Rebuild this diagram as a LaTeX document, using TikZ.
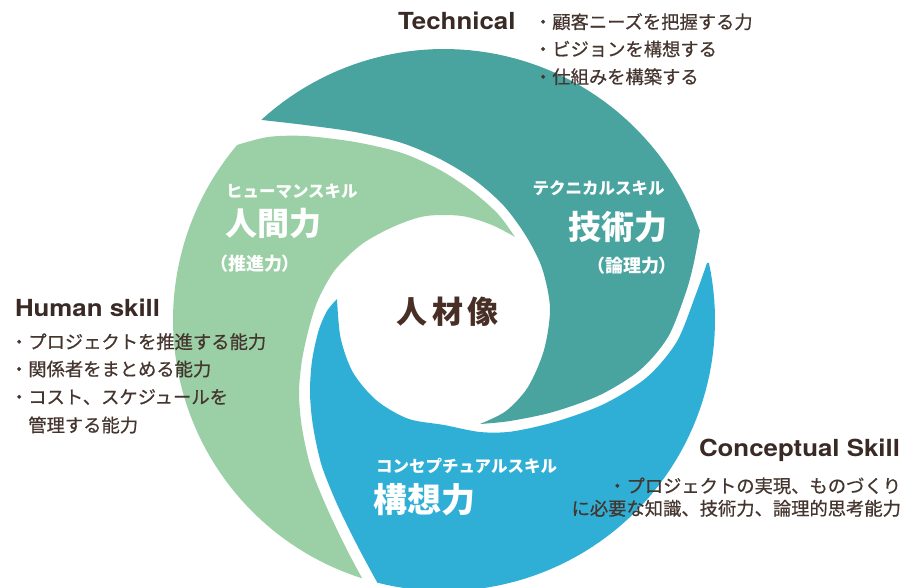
\documentclass[tikz,border=0pt]{standalone}
\usepackage{fontspec}
\setmainfont{Liberation Sans}
\newfontfamily\lat[FakeStretch=1.1]{TeX Gyre Heros}
\newfontfamily\jp{Noto Sans CJK JP}
\newfontfamily\jpm[FakeBold=0.6]{Noto Sans CJK JP}
\newfontfamily\jpp[RawFeature=+palt]{Noto Sans CJK JP}
\definecolor{tealc}{HTML}{49A4A0}
\definecolor{greenc}{HTML}{9BD0A6}
\definecolor{bluec}{HTML}{30AFD6}
\definecolor{headc}{HTML}{3A2A25}
\definecolor{bulc}{HTML}{45352F}
\definecolor{corec}{HTML}{472F26}
\tikzset{
  lab/.style={inner sep=0pt, outer sep=0pt},
  head/.style={lab, font=\lat\bfseries\fontsize{23.5pt}{26pt}\selectfont, text=headc},
  bul/.style={lab, font=\jpm\fontsize{18.3pt}{22pt}\selectfont, text=bulc},
  sk/.style={lab, font=\jp\bfseries\fontsize{16.5pt}{18pt}\selectfont, text=white},
  bigl/.style={lab, font=\jp\bfseries\fontsize{33pt}{36pt}\selectfont, text=white},
  parl/.style={lab, font=\jpp\bfseries\fontsize{18pt}{20pt}\selectfont, text=white},
  core/.style={lab, font=\jp\bfseries\fontsize{31pt}{34pt}\selectfont, text=corec},
}
\begin{document}
\begin{tikzpicture}[x=1pt,y=-1pt]
\useasboundingbox (0,0) rectangle (907,588);
\begin{scope}
\clip (0,0) rectangle (907,588);
% teal shape
\fill[tealc] plot[domain=132.3:19.4, samples=60] ({444+271*cos(\x)},{320-271*sin(\x)})
  -- plot[smooth] coordinates {(700,230) (694,262) (686,292) (668,337) (640,370) (600,395) (553,412) (510,421) (480,424)}
  -- plot[smooth] coordinates {(480,424) (506,411) (528,387) (544,350) (550,308) (542,268) (526,236) (504,206) (476,181) (442,160) (402,143) (355,132) (305,125) (262,120)}
  -- cycle;
% green shape
\fill[greenc] plot[domain=139.8:252.4, samples=60] ({444+271*cos(\x)},{320-271*sin(\x)})
  -- plot[smooth] coordinates {(362,578) (346,548) (327,508) (311,468) (302,428) (299,393) (302,360) (309,328) (318,300) (335,270) (362,244) (395,226) (426,216) (462,216) (492,225) (515,237)}
  -- plot[smooth] coordinates {(515,237) (498,214) (472,191) (440,170) (402,153) (355,142) (305,136) (268,137) (237,145)}
  -- cycle;
% blue shape
\fill[bluec] plot[domain=12.2:-104.3, samples=60] ({444+271*cos(\x)},{320-271*sin(\x)})
  -- plot[smooth] coordinates {(377,582) (372,573) (356,543) (337,504) (321.5,465) (313,426) (310,393) (312,361) (318.5,331) (327,311) (337,299)}
  -- plot[smooth] coordinates {(337,299) (340.6,338) (353,372.5) (376.5,400.4) (408,418.7) (444,425) (480,432) (512,431.5) (556,421.6) (604,404) (646.5,377.6) (676.6,342) (695.5,295.3) (707,263)}
  -- cycle;
\end{scope}
% center
\node[core] (core) at (447.5,311.7) {人\hspace{4.5pt}材\hspace{4.5pt}像};
% shape labels
\node[sk, anchor=west] (hs) at (226,191.7) {ヒューマンスキル};
\node[bigl, anchor=west, font=\jp\bfseries\fontsize{32pt}{34pt}\selectfont] (hb) at (225,223) {人間力};
\node[parl, anchor=west] (hp) at (219,264) {（推進力）};
\node[sk, anchor=east] (ts) at (664.5,188.3) {テクニカルスキル};
\node[bigl, anchor=east] (tb) at (667,226.7) {技術力};
\node[parl, anchor=east] (tp) at (668,266) {（論理力）};
\node[sk, anchor=west] (cs) at (376,466) {コンセプチュアルスキル};
\node[bigl, anchor=west, font=\jp\bfseries\fontsize{34pt}{36pt}\selectfont] (cb) at (373,500) {構想力};
% Technical
\node[head, anchor=base west] (th) at (398,30) {Technical};
\node[bul, anchor=west] (t1) at (534,21.7) {・顧客ニーズを把握する力};
\node[bul, anchor=west] (t2) at (534,49) {・ビジョンを構想する};
\node[bul, anchor=west] (t3) at (534,76.7) {・仕組みを構築する};
% Human skill
\node[head, anchor=base west] (hh) at (15,316) {Human skill};
\node[bul, anchor=west] (h1) at (10,341.7) {・プロジェクトを推進する能力};
\node[bul, anchor=west] (h2) at (10,369) {・関係者をまとめる能力};
\node[bul, anchor=west] (h3) at (10,397) {・コスト、スケジュールを};
\node[bul, anchor=west] (h4) at (28.3,425) {管理する能力};
% Conceptual
\node[head, anchor=base east] (ch) at (900,456) {Conceptual Skill};
\node[bul, anchor=east] (c1) at (901,485.8) {・プロジェクトの実現、ものづくり};
\node[bul, anchor=east] (c2) at (901,508.3) {に必要な知識、技術力、論理的思考能力};
\end{tikzpicture}
\end{document}
